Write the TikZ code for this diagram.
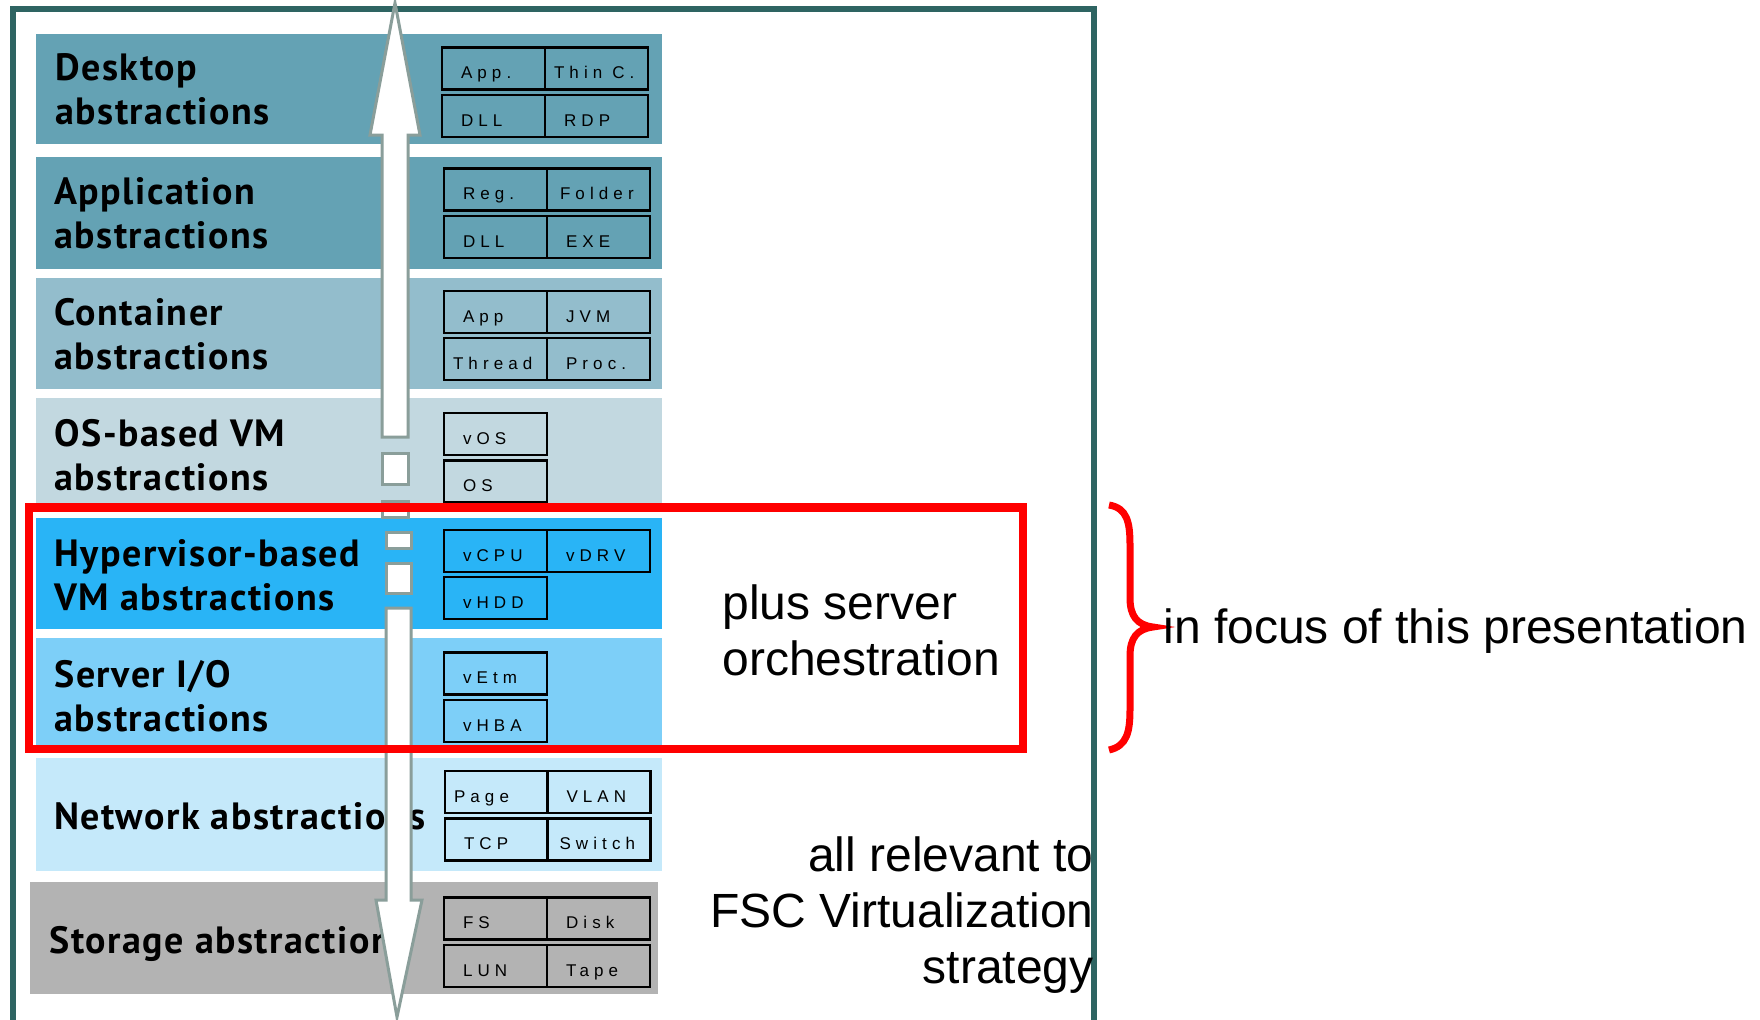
\documentclass[tikz,border=0pt]{standalone}
\usepackage{fontspec}
\setmainfont{Liberation Sans}
\newfontfamily\labelfont[LetterSpace=4]{PT Sans}
\newfontfamily\cellfont[LetterSpace=30]{Liberation Sans}
\definecolor{cdesk}{HTML}{64A2B4}
\definecolor{ccont}{HTML}{93BDCC}
\definecolor{cos}{HTML}{C2D8E0}
\definecolor{chyp}{HTML}{29B4F6}
\definecolor{csio}{HTML}{7DCFF8}
\definecolor{cnet}{HTML}{C5E9FA}
\definecolor{cstor}{HTML}{B3B3B3}
\definecolor{cframe}{HTML}{2E6462}
\definecolor{carrow}{HTML}{8A9E9A}
\definecolor{cred}{HTML}{FF0000}
\newcommand\cp{\hspace*{5pt}}
\begin{document}
\begin{tikzpicture}[x=0.5pt,y=-0.5pt,
  layer/.style={draw=none, minimum width=313pt, inner sep=0pt, outer sep=0pt},
  lbl/.style={anchor=base west, align=left, inner sep=0pt,
    font=\labelfont\bfseries\fontsize{19pt}{22pt}\selectfont},
  cell/.style={draw=black, line width=1.3pt, minimum width=51.5pt, minimum height=21pt,
    inner sep=0pt, text width=42.5pt, align=left, text height=10pt, text depth=0pt,
    font=\cellfont\fontsize{8.5pt}{10pt}\selectfont},
  big/.style={inner sep=0pt, font=\fontsize{24pt}{28pt}\selectfont},
  arrowpart/.style={fill=white, draw=carrow, line width=1.5pt},
  frameline/.style={draw=cframe, line width=2.75pt},
  redline/.style={draw=cred, line width=4.25pt}]
\useasboundingbox (0,0) rectangle (1760,1019);
\fill[white] (0,0) rectangle (1760,1019);

% frame
\draw[frameline] (13,1030) -- (13,9) -- (1094,9) -- (1094,1030);

% layers
\node[layer, fill=cdesk, minimum height=55pt]   (desk) at (349,89) {};
\node[layer, fill=cdesk, minimum height=56pt]   (appl) at (349,213) {};
\node[layer, fill=ccont, minimum height=55.5pt] (cont) at (349,333.5) {};
\node[layer, fill=cos,   minimum height=54.5pt] (osvm) at (349,452.5) {};
\node[layer, fill=chyp,  minimum height=55.5pt] (hypv) at (349,573.5) {};
\node[layer, fill=csio,  minimum height=54pt]   (sio)  at (349,692) {};
\node[layer, fill=cnet,  minimum height=56.5pt] (net)  at (349,814.5) {};
\node[layer, fill=cstor, minimum height=56pt, minimum width=314pt] (stor) at (344,938) {};

% labels (anchor = baseline of the last line)
\node[lbl] (ldesk) at (55,124)  {Desktop\\abstractions};
\node[lbl] (lappl) at (54,248) {Application\\abstractions};
\node[lbl] (lcont) at (54,369) {Container\\abstractions};
\node[lbl] (losvm) at (54,490) {OS-based VM\\abstractions};
\node[lbl] (lhypv) at (54,610) {Hypervisor-based\\VM abstractions};
\node[lbl] (lsio)  at (54,731) {Server I/O\\abstractions};
\node[lbl] (lnet)  at (54,829) {Network abstractions};
\node[lbl] (lstor) at (49,953) {Storage abstractions};

% cells
\node[cell] (d1) at (493.5,68.5) {\cp App.};
\node[cell] (d2) at (596.5,68.5) {Thin\hspace{5pt}C.};
\node[cell] (d3) at (493.5,116)  {\cp DLL};
\node[cell] (d4) at (596.5,116)  {\cp RDP};

\node[cell] (a1) at (495.5,189.5) {\cp Reg.};
\node[cell] (a2) at (598.5,189.5) {\hspace*{2pt}Folder};
\node[cell] (a3) at (495.5,237)   {\cp DLL};
\node[cell] (a4) at (598.5,237)   {\cp EXE};

\node[cell] (c1) at (495.5,312) {\cp App};
\node[cell] (c2) at (598.5,312) {\cp JVM};
\node[cell] (c3) at (495.5,359) {Thread};
\node[cell] (c4) at (598.5,359) {\cp Proc.};

\node[cell] (o1) at (495.5,434)   {\cp vOS};
\node[cell] (o2) at (495.5,481.5) {\cp OS};

\node[cell] (h1) at (495.5,551) {\cp vCPU};
\node[cell] (h2) at (598.5,551) {\cp vDRV};
\node[cell] (h3) at (495.5,598) {\cp vHDD};

\node[cell] (s1) at (495.5,673.5) {\cp vEtm};
\node[cell] (s2) at (495.5,721)   {\cp vHBA};

\node[cell] (n1) at (496.5,792)   {Page};
\node[cell] (n2) at (599,792)     {\cp VLAN};
\node[cell] (n3) at (496.5,839.5) {\cp TCP};
\node[cell] (n4) at (599,839.5)   {\hspace*{1.5pt}Switch};

\node[cell] (t1) at (495.5,918.5) {\cp FS};
\node[cell] (t2) at (598.5,918.5) {\cp Disk};
\node[cell] (t3) at (495.5,966)   {\cp LUN};
\node[cell] (t4) at (598.5,966)   {\cp Tape};

% broken double arrow
\filldraw[arrowpart] (382,437) -- (382,135) -- (370,135) -- (395,3) -- (420,135) -- (408,135) -- (408,437) -- cycle;
\filldraw[arrowpart] (382,453) rectangle (408,484);
\filldraw[arrowpart] (382,501) rectangle (408,517);
\filldraw[arrowpart] (386,532) rectangle (411,548);
\filldraw[arrowpart] (386,563) rectangle (411,593);
\filldraw[arrowpart] (386,608) -- (386,900) -- (376,900) -- (397,1017) -- (422,900) -- (411,900) -- (411,608) -- cycle;

% focus box and brace
\draw[redline] (29,507.5) rectangle (1023,749);
\draw[draw=cred, line width=3.5pt] (1109,505) .. controls (1127,508) and (1130,522) .. (1130,545)
  -- (1130,598) .. controls (1130,616) and (1137,625) .. (1153,627)
  .. controls (1137,629) and (1130,638) .. (1130,656)
  -- (1130,709) .. controls (1130,732) and (1127,746) .. (1109,750);

% texts (anchor = baseline of the last line)
\node[big, anchor=base west, align=left] (orch) at (722,675) {plus server\\orchestration};
\node[big, anchor=base west] (focus) at (1163,643) {in focus of this presentation};
\node[big, anchor=base east, align=right] (fsc) at (1094,983) {all relevant to\\FSC Virtualization\\strategy};
\end{tikzpicture}
\end{document}
